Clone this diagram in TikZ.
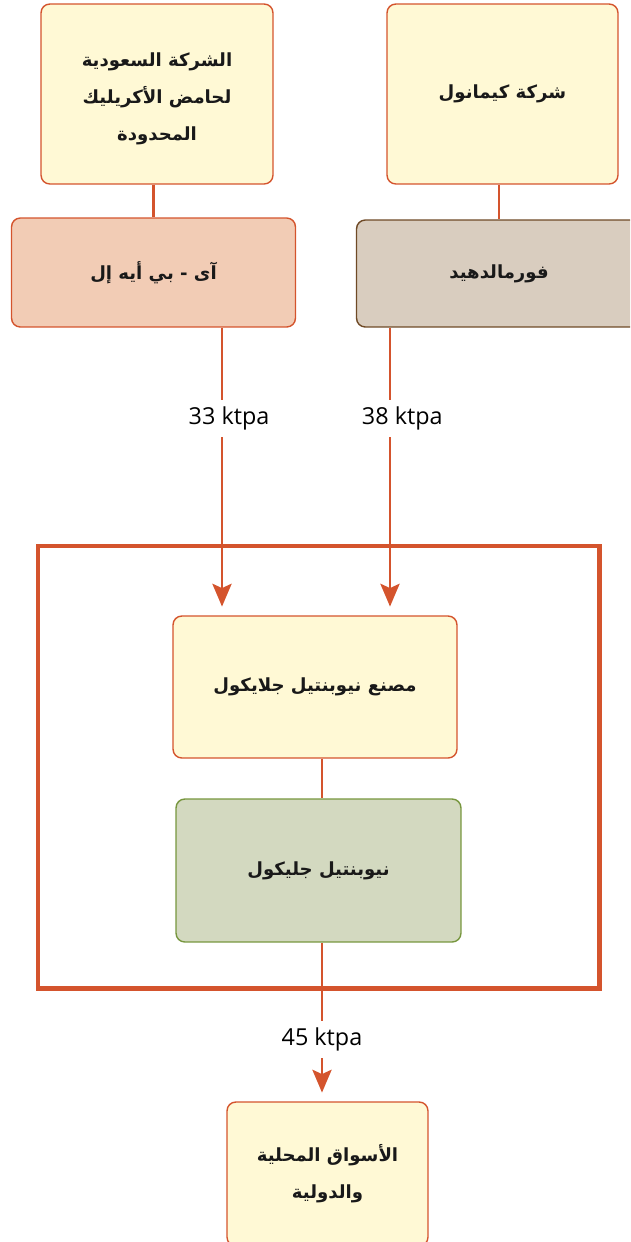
\documentclass[tikz,border=0pt]{standalone}
\usepackage{fontspec}
\setmainfont{Open Sans}
\newfontfamily\arabicfont[Script=Arabic]{DejaVu Sans}
\TeXXeTstate=1
\usetikzlibrary{arrows.meta}
\definecolor{lineorange}{RGB}{212,84,45}
\definecolor{creamfill}{RGB}{255,249,213}
\definecolor{aplfill}{RGB}{242,204,181}
\definecolor{formfill}{RGB}{217,205,191}
\definecolor{formborder}{RGB}{111,74,38}
\definecolor{greenfill}{RGB}{211,217,192}
\definecolor{greenborder}{RGB}{119,150,62}
\newcommand{\artext}{\arabicfont\bfseries\fontsize{10.3pt}{21pt}\selectfont}

\begin{document}
\begin{tikzpicture}[x=0.02cm,y=-0.02cm,
box/.style={draw=lineorange,line width=0.8pt,rounded corners=5pt,font=\artext,align=center,text=black!90},
link/.style={draw=lineorange,line width=1.2pt},
flow/.style={link,-{Stealth[length=13pt,width=11pt,inset=2.5pt]},shorten >=5pt},
rate/.style={fill=white,font=\fontsize{13.3pt}{15pt}\selectfont,inner sep=4pt}]
\useasboundingbox (0,0) rectangle (630,1242);
\clip (0,0) rectangle (630,1242);

\node[box,fill=creamfill,minimum width=4.64cm,minimum height=3.6cm] (saudi) at (157,94) {};
\node[font=\artext,align=center,text=black!90] (saudiname) at (157,99) {\beginR الشركة السعودية\endR\\\beginR لحامض الأكريليك\endR\\\beginR المحدودة\endR};
\node[box,fill=creamfill,minimum width=4.62cm,minimum height=3.6cm] (kemanol) at (502.5,94) {\beginR شركة كيمانول\endR};
\node[box,fill=aplfill,minimum width=5.68cm,minimum height=2.18cm] (apl) at (153.5,272.5) {\beginR آى - بي أيه إل\endR};
\node[box,fill=formfill,draw=formborder,minimum width=5.7cm,minimum height=2.14cm] (formal) at (499,273.5) {\beginR فورمالدهيد\endR};

\draw[lineorange,line width=2.5pt] (38,546) rectangle (599.5,988.5);
\node[box,fill=creamfill,minimum width=5.68cm,minimum height=2.84cm] (plant) at (315,687) {\beginR مصنع نيوبنتيل جلايكول\endR};
\node[box,fill=greenfill,draw=greenborder,minimum width=5.7cm,minimum height=2.86cm] (glycol) at (318.5,870.5) {\beginR نيوبنتيل جليكول\endR};
\node[box,fill=creamfill,minimum width=4.02cm,minimum height=2.88cm] (markets) at (327.5,1174) {\beginR الأسواق المحلية\endR\\\beginR والدولية\endR};

\coordinate (inA) at (222,0);
\coordinate (inB) at (390,0);
\coordinate (spine) at (322,0);

\draw[link] (saudi.south -| apl.north) -- (apl.north);
\draw[link] (kemanol.south -| formal.north) -- (formal.north);
\draw[flow] (apl.south -| inA) -- (plant.north -| inA) node[rate,pos=0.316,xshift=4pt] {33 ktpa};
\draw[flow] (formal.south -| inB) -- (plant.north -| inB) node[rate,pos=0.315,xshift=7pt] {38 ktpa};
\draw[link] (plant.south -| spine) -- (glycol.north -| spine);
\draw[flow] (glycol.south -| spine) -- (markets.north -| spine) node[rate,pos=0.61] {45 ktpa};

\end{tikzpicture}
\end{document}
